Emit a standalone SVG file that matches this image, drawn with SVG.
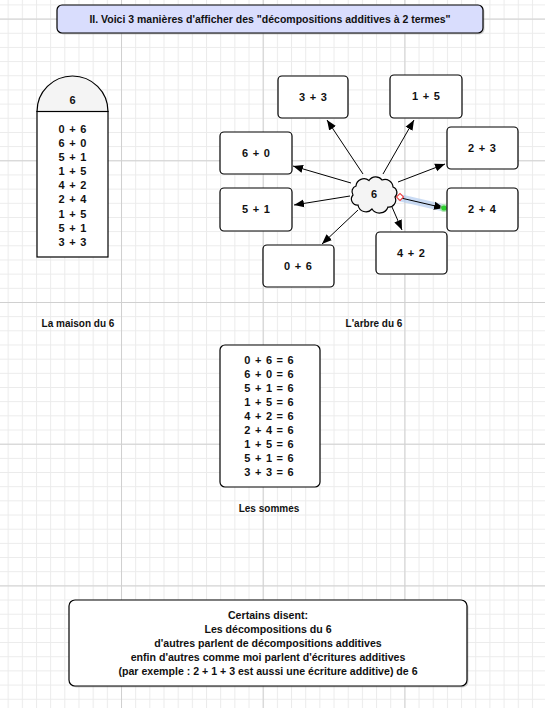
<svg xmlns="http://www.w3.org/2000/svg" width="545" height="708" viewBox="0 0 545 708">
<style>
.t{font-family:"Liberation Sans",Arial,sans-serif;font-weight:bold;font-size:11px;fill:#111;text-anchor:middle}
.d{word-spacing:1.5px}
.s{font-size:10px}
.n{font-size:10.6px}
.box{fill:#fff;stroke:#000;stroke-width:1.2}
.sh{fill:#999;opacity:0.45}
.ar{stroke:#000;stroke-width:1;fill:none;marker-end:url(#ah)}
</style>
<defs>
<pattern id="minor" patternUnits="userSpaceOnUse" x="121" y="18.6" width="14.17" height="14.17">
<path d="M0 0.5H14.17M0.5 0V14.17" stroke="#ebebeb" stroke-width="1" fill="none"/>
</pattern>
<pattern id="major" patternUnits="userSpaceOnUse" x="121" y="18.6" width="141.7" height="141.7">
<path d="M0 0.5H141.7M0.5 0V141.7" stroke="#d0d0d0" stroke-width="1" fill="none"/>
</pattern>
<marker id="ah" viewBox="0 0 10 10" refX="10" refY="5" markerWidth="10" markerHeight="10" markerUnits="userSpaceOnUse" orient="auto">
<path d="M0 1L10 5L0 9Z" fill="#000"/>
</marker>
</defs>
<rect width="545" height="708" fill="#fff"/>
<rect width="545" height="708" fill="url(#minor)"/>
<rect width="545" height="708" fill="url(#major)"/>

<g id="title">
<rect class="sh" x="58.5" y="6.5" width="426" height="28" rx="5"/>
<rect x="57" y="5" width="426" height="28" rx="5" fill="#d9ddfd" stroke="#000" stroke-width="1.2"/>
<text class="t" x="270" y="23" style="font-size:10.5px">II. Voici 3 manières d'afficher des "décompositions additives à 2 termes"</text>
</g>

<g id="maison">
<path d="M37 111.5A35.5 35.5 0 0 1 108 111.5Z" fill="#f4f4f4" stroke="#000" stroke-width="1.2"/>
<rect x="37" y="111.5" width="71" height="145.5" fill="#fff" stroke="#000" stroke-width="1.2"/>
<text class="t" x="72.5" y="104">6</text>
<g class="d">
<text class="t" x="72.5" y="133">0 + 6</text>
<text class="t" x="72.5" y="147">6 + 0</text>
<text class="t" x="72.5" y="161">5 + 1</text>
<text class="t" x="72.5" y="175">1 + 5</text>
<text class="t" x="72.5" y="189">4 + 2</text>
<text class="t" x="72.5" y="203">2 + 4</text>
<text class="t" x="72.5" y="218">1 + 5</text>
<text class="t" x="72.5" y="232">5 + 1</text>
<text class="t" x="72.5" y="246">3 + 3</text>
</g>
</g>
<text id="lbl-maison" class="t s" x="78" y="327">La maison du 6</text>

<g id="connectors">
<line class="ar" x1="363" y1="174" x2="327" y2="120"/>
<line class="ar" x1="383" y1="174" x2="414" y2="120"/>
<line class="ar" x1="351" y1="183" x2="293" y2="166"/>
<line class="ar" x1="398" y1="182" x2="445" y2="164"/>
<line class="ar" x1="350" y1="196" x2="294" y2="205"/>
<line class="ar" x1="358" y1="210" x2="322" y2="244"/>
<line class="ar" x1="392" y1="207" x2="402" y2="230"/>
<line x1="401" y1="198" x2="444" y2="208" stroke="#a9c6ef" stroke-width="7" stroke-linecap="round" opacity="0.6"/>
<line class="ar" x1="401" y1="198" x2="444" y2="208"/>
<rect x="397.5" y="194.5" width="5" height="5" transform="rotate(45 400 197)" fill="#fff" stroke="#e33" stroke-width="1"/>
<circle cx="444" cy="208" r="4" fill="#9ee89a" opacity="0.7"/>
<circle cx="444" cy="208" r="2.6" fill="#2ccf2c"/>
</g>

<g id="cloud">
<path transform="translate(374 194)" d="M-21 1A6 6 0 0 1 -18 -8A8 8 0 0 1 -5 -13.5A8 8 0 0 1 8 -14A8 8 0 0 1 19 -7A6 6 0 0 1 21 3A7 7 0 0 1 14 13A9 9 0 0 1 -2 15A8 8 0 0 1 -16 11A6 6 0 0 1 -21 1Z" fill="#f4f4f4" stroke="#000" stroke-width="1.2"/>
<text class="t" x="374" y="198">6</text>
</g>

<g id="n33"><rect class="box" x="278" y="76" width="70" height="42" rx="4"/><text class="t d" x="313" y="101">3 + 3</text></g>
<g id="n15"><rect class="box" x="390" y="75" width="72" height="43" rx="4"/><text class="t d" x="426" y="100">1 + 5</text></g>
<g id="n60"><rect class="box" x="220" y="132" width="72" height="42" rx="4"/><text class="t d" x="256" y="157">6 + 0</text></g>
<g id="n23"><rect class="box" x="447" y="127" width="71" height="42" rx="4"/><text class="t d" x="482" y="152">2 + 3</text></g>
<g id="n51"><rect class="box" x="220" y="188" width="72" height="43" rx="4"/><text class="t d" x="256" y="213">5 + 1</text></g>
<g id="n24"><rect class="box" x="447" y="188" width="71" height="43" rx="4"/><text class="t d" x="482" y="213">2 + 4</text></g>
<g id="n06"><rect class="box" x="263" y="245" width="71" height="42" rx="4"/><text class="t d" x="298" y="270">0 + 6</text></g>
<g id="n42"><rect class="box" x="376" y="232" width="71" height="42" rx="4"/><text class="t d" x="411" y="257">4 + 2</text></g>
<text id="lbl-arbre" class="t s" x="374" y="327">L'arbre du 6</text>

<g id="sommes" class="d">
<rect class="box" x="220" y="345" width="100" height="142" rx="5"/>
<text class="t" x="269" y="364">0 + 6 = 6</text>
<text class="t" x="269" y="378">6 + 0 = 6</text>
<text class="t" x="269" y="392">5 + 1 = 6</text>
<text class="t" x="269" y="406">1 + 5 = 6</text>
<text class="t" x="269" y="420">4 + 2 = 6</text>
<text class="t" x="269" y="434">2 + 4 = 6</text>
<text class="t" x="269" y="448">1 + 5 = 6</text>
<text class="t" x="269" y="462">5 + 1 = 6</text>
<text class="t" x="269" y="476">3 + 3 = 6</text>
</g>
<text id="lbl-sommes" class="t s" x="269" y="512">Les sommes</text>

<g id="note">
<rect class="sh" x="70.5" y="601.5" width="398" height="86" rx="6"/>
<rect class="box" x="69" y="600" width="398" height="86" rx="6"/>
<text class="t n" x="268" y="619">Certains disent:</text>
<text class="t n" x="268" y="633">Les décompositions du 6</text>
<text class="t n" x="268" y="647">d'autres parlent de décompositions additives</text>
<text class="t n" x="268" y="661">enfin d'autres comme moi parlent d'écritures additives</text>
<text class="t n" x="268" y="675">(par exemple : 2 + 1 + 3 est aussi une écriture additive) de 6</text>
</g>
</svg>
